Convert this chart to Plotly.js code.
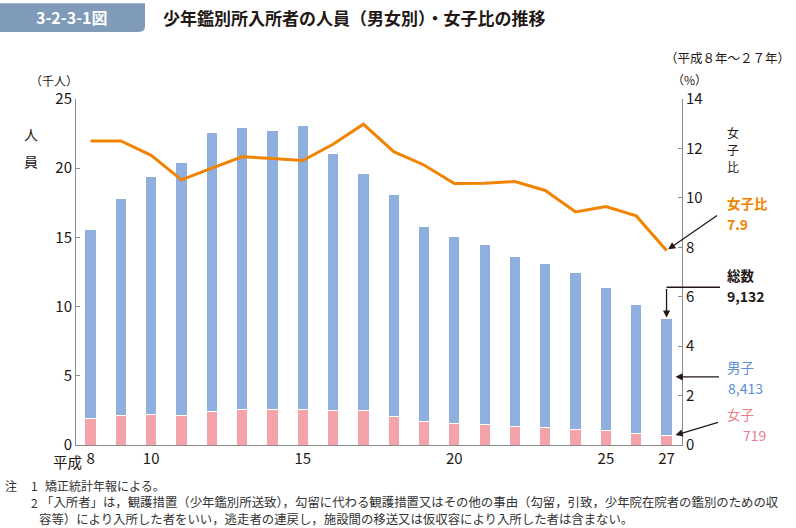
<!DOCTYPE html>
<html><head><meta charset="utf-8">
<script src="https://cdn.plot.ly/plotly-3.0.1.min.js"></script>
<style>html,body{margin:0;padding:0;background:#fff}#c{width:796px;height:528px}</style>
</head><body><div id="c"></div>
<script>
// 年次（平成）
const years = [8,9,10,11,12,13,14,15,16,17,18,19,20,21,22,23,24,25,26,27];
// 女子（千人）
const female = [1.88,2.13,2.20,2.10,2.42,2.58,2.53,2.56,2.46,2.47,2.08,1.72,1.53,1.48,1.36,1.24,1.12,1.02,0.85,0.719];
// 男子（千人）
const male = [13.67,15.71,17.22,18.28,20.13,20.39,20.23,20.51,18.57,17.16,16.04,14.05,13.51,13.03,12.24,11.90,11.38,10.39,9.29,8.413];
// 女子比（%）
const ratio = [12.30,12.30,11.72,10.73,11.20,11.66,11.59,11.51,12.17,12.98,11.87,11.33,10.58,10.59,10.66,10.30,9.43,9.65,9.27,7.87];
// 目盛ラベル
const tickVals = [8,10,15,20,25,27];
const tickText = ['8','10','15','20','25','27'];

const last = years.length - 1;
const totalLast = female[last] + male[last];

const L = 76, T = 99, W = 606, H = 346.5;
const fx = px => (px - L) / W;
const fy = py => (T + H - py) / H;
const FONT = '"Noto Sans CJK JP", "Noto Sans", sans-serif';

const traces = [
  {type:'bar', x:years, y:female, yaxis:'y', width:0.37,
   marker:{color:'#f4a3ab', line:{color:'#ffffff', width:1}}, hoverinfo:'skip'},
  {type:'bar', x:years, y:male, yaxis:'y', width:0.37,
   marker:{color:'#8fb0df', line:{color:'#ffffff', width:1}}, hoverinfo:'skip'},
  {type:'scatter', mode:'lines', x:years, y:ratio, yaxis:'y2',
   line:{color:'#f08300', width:3}, hoverinfo:'skip'}
];

function txt(text, px, py, opts) {
  return Object.assign({text:text, xref:'paper', yref:'paper', x:fx(px), y:fy(py),
    xanchor:'left', yanchor:'middle', showarrow:false, borderpad:0,
    font:{family:FONT, size:13, color:'#231815'}}, opts||{});
}

const annotations = [
  // header
  txt('3-2-3-1図', 72, 17, {xanchor:'center', font:{family:FONT, size:16, color:'#ffffff', weight:'bold'}}),
  txt('少年鑑別所入所者の人員（男女別）・女子比の推移', 162, 17, {font:{family:FONT, size:17, color:'#231815', weight:'bold'}}),
  txt('（平成８年～２７年）', 791, 57, {xanchor:'right', font:{family:FONT, size:12.5, color:'#231815'}}),
  txt('（千人）', 79, 80, {xanchor:'right', font:{family:FONT, size:12, color:'#231815'}}),
  txt('（%）', 708, 79, {xanchor:'right', font:{family:FONT, size:12, color:'#231815'}}),
  txt('人', 31, 134, {xanchor:'center', font:{family:FONT, size:14, color:'#231815'}}),
  txt('員', 31, 161, {xanchor:'center', font:{family:FONT, size:14, color:'#231815'}}),
  txt('女', 733, 133, {xanchor:'center', font:{family:FONT, size:12, color:'#231815'}}),
  txt('子', 733, 150, {xanchor:'center', font:{family:FONT, size:12, color:'#231815'}}),
  txt('比', 733, 167, {xanchor:'center', font:{family:FONT, size:12, color:'#231815'}}),
  txt('平成', 83, 462, {xanchor:'right', font:{family:FONT, size:14.5, color:'#231815'}}),
  // labels
  txt('女子比', 726, 214, {yanchor:'bottom', font:{family:FONT, size:13.5, color:'#f08300', weight:'bold'}}),
  txt('7.9', 726, 213, {yanchor:'top', font:{family:FONT, size:14, color:'#f08300', weight:'bold'}}),
  txt('総数', 726, 286.5, {yanchor:'bottom', font:{family:FONT, size:13.5, color:'#231815', weight:'bold'}}),
  txt('9,132', 726, 285.5, {yanchor:'top', font:{family:FONT, size:14, color:'#231815', weight:'bold'}}),
  txt('男子', 726, 378, {yanchor:'bottom', font:{family:FONT, size:13.5, color:'#5b8fd2'}}),
  txt('8,413', 727, 377, {yanchor:'top', font:{family:FONT, size:14, color:'#5b8fd2'}}),
  txt('女子', 726, 425, {yanchor:'bottom', font:{family:FONT, size:13.5, color:'#e9808b'}}),
  txt('719', 768, 424, {xanchor:'right', yanchor:'top', font:{family:FONT, size:14, color:'#e9808b'}}),
  // arrows
  {xref:'x', yref:'y2', x:years[last], y:ratio[last], text:'', showarrow:true,
   ax:52, ay:-36, arrowhead:2, arrowsize:1.1, arrowwidth:1.3, arrowcolor:'#231815', standoff:2},
  {xref:'x', yref:'y', x:years[last], y:totalLast, text:'', showarrow:true,
   ax:0, ay:-31, arrowhead:2, arrowsize:1.1, arrowwidth:1.3, arrowcolor:'#231815', standoff:1},
  {xref:'x', yref:'y', x:years[last], y:female[last] + male[last]/2, xshift:9, text:'', showarrow:true,
   ax:45, ay:0, arrowhead:2, arrowsize:1.1, arrowwidth:1.3, arrowcolor:'#231815', standoff:0},
  {xref:'x', yref:'y', x:years[last], y:female[last], xshift:9, text:'', showarrow:true,
   ax:44, ay:-13, arrowhead:2, arrowsize:1.1, arrowwidth:1.3, arrowcolor:'#231815', standoff:0},
  // notes
  txt('注', 4, 486, {font:{family:FONT, size:12, color:'#333333'}}),
  txt('1', 30, 486, {font:{family:FONT, size:12, color:'#333333'}}),
  txt('矯正統計年報による。', 44, 486, {font:{family:FONT, size:12, color:'#333333'}}),
  txt('2', 30, 503, {font:{family:FONT, size:12, color:'#333333'}}),
  txt('「入所者」は，観護措置（少年鑑別所送致），勾留に代わる観護措置又はその他の事由（勾留，引致，少年院在院者の鑑別のための収', 40, 503, {font:{family:FONT, size:12.4, color:'#333333'}}),
  txt('容等）により入所した者をいい，逃走者の連戻し，施設間の移送又は仮収容により入所した者は含まない。', 38, 520, {font:{family:FONT, size:12.4, color:'#333333'}})
];

const shapes = [
  {type:'path', xref:'paper', yref:'paper',
   path:'M '+fx(0)+','+fy(3)+' L '+fx(145)+','+fy(3)+' L '+fx(145)+','+fy(26)+' Q '+fx(145)+','+fy(32)+' '+fx(139)+','+fy(32)+' L '+fx(0)+','+fy(32)+' Z',
   fillcolor:'#7f9bb9', line:{width:0}},
  {type:'line', xref:'paper', yref:'paper', x0:fx(666.5), x1:fx(720), y0:fy(287.5), y1:fy(287.5),
   line:{color:'#231815', width:1.3}}
];

const axisFont = {family:FONT, size:15, color:'#231815'};
const layout = {
  width:796, height:528,
  margin:{l:L, r:796-L-W, t:T, b:528-T-H, pad:0},
  paper_bgcolor:'#ffffff', plot_bgcolor:'#ffffff',
  showlegend:false, barmode:'stack', bargap:0,
  xaxis:{range:[7.52,27.51], tickvals:tickVals, ticktext:tickText, ticks:'', showline:true,
         linecolor:'#8c8c8c', linewidth:1, showgrid:false, zeroline:false, tickfont:axisFont, fixedrange:true},
  yaxis:{range:[0,25], dtick:5, ticks:'inside', ticklen:4, tickcolor:'#8c8c8c', showline:true,
         linecolor:'#8c8c8c', linewidth:1, showgrid:false, zeroline:false, tickfont:axisFont, fixedrange:true},
  yaxis2:{range:[0,14], dtick:2, overlaying:'y', side:'right', ticks:'inside', ticklen:4, tickcolor:'#8c8c8c',
          showline:true, linecolor:'#8c8c8c', linewidth:1, showgrid:false, zeroline:false, tickfont:axisFont, fixedrange:true},
  annotations:annotations,
  shapes:shapes
};

Plotly.newPlot('c', traces, layout, {staticPlot:true, displayModeBar:false});
</script>
</body></html>
